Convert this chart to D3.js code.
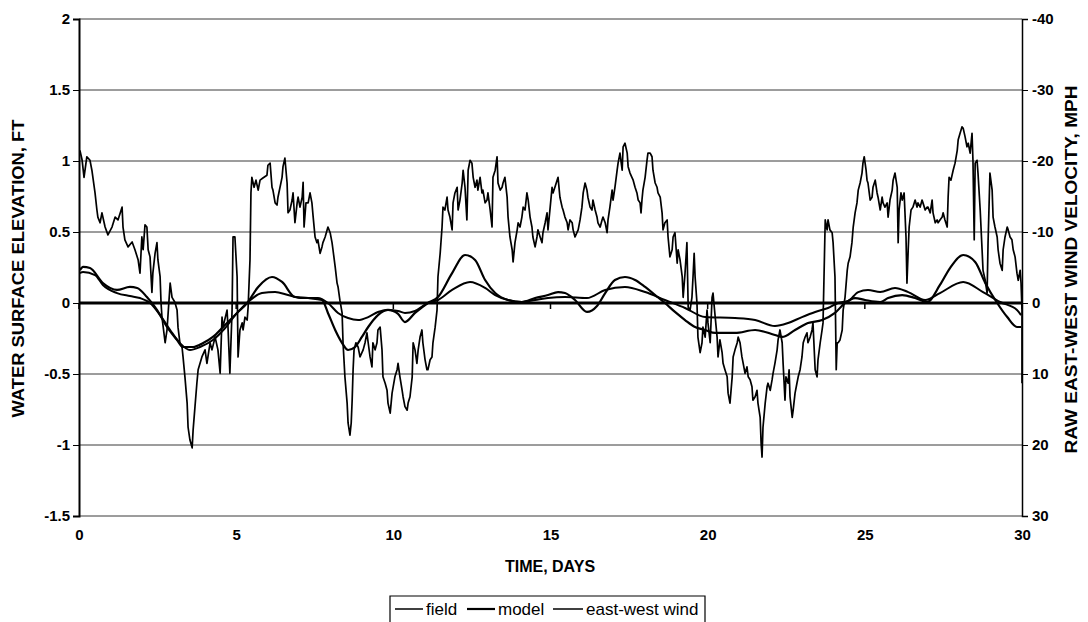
<!DOCTYPE html>
<html><head><meta charset="utf-8">
<script src="https://cdn.jsdelivr.net/npm/d3@7"></script>
<style>body{margin:0;background:#fff}svg{display:block}text{font-family:"Liberation Sans",Arial,sans-serif}</style>
</head><body>
<svg id="chart" width="1088" height="622"></svg>
<script>
// ---- data ----
const dayTicks = [0, 5, 10, 15, 20, 25, 30];
const elevTicks = [-1.5, -1, -0.5, 0, 0.5, 1, 1.5, 2];
const windTicks = [-40, -30, -20, -10, 0, 10, 20, 30];
const seriesNames = ["field", "model", "east-west wind"];

// [day, ft]
const fieldSeries = [[0.03,0.211],[0.13,0.218],[0.51,0.197],[0.76,0.127],[1.21,0.070],[1.62,0.049],[1.94,0.035],[2.26,0.0],[2.58,-0.085],[2.90,-0.190],[3.21,-0.282],[3.53,-0.331],[3.85,-0.310],[4.26,-0.261],[4.65,-0.176],[5.03,-0.070],[5.38,0.007],[5.82,0.070],[6.24,0.077],[6.65,0.056],[7.10,0.035],[7.60,0.035],[7.92,0.0],[8.24,-0.070],[8.56,-0.106],[8.88,-0.120],[9.20,-0.099],[9.51,-0.063],[9.83,-0.049],[10.15,-0.056],[10.37,-0.070],[10.69,-0.056],[11.10,0.0],[11.42,0.021],[11.87,0.092],[12.44,0.148],[12.92,0.106],[13.24,0.056],[13.65,0.021],[14.09,0.007],[14.51,0.021],[14.92,0.035],[15.46,0.042],[16.16,0.035],[16.74,0.092],[17.37,0.113],[18.01,0.077],[18.64,0.021],[19.28,-0.035],[19.92,-0.099],[20.87,-0.106],[21.51,-0.120],[22.14,-0.162],[22.56,-0.141],[23.00,-0.099],[23.42,-0.063],[23.83,-0.035],[24.15,0.0],[24.47,0.014],[24.79,0.077],[25.10,0.092],[25.49,0.077],[25.96,0.106],[26.38,0.077],[26.92,0.021],[27.39,0.070],[28.13,0.148],[28.76,0.077],[29.30,0.007],[29.84,-0.049],[29.97,-0.085]];

const modelSeries = [[0.03,0.232],[0.13,0.254],[0.35,0.246],[0.76,0.141],[1.21,0.092],[1.62,0.113],[1.85,0.106],[2.16,0.042],[2.48,-0.049],[2.80,-0.169],[3.12,-0.261],[3.31,-0.310],[3.63,-0.310],[3.95,-0.282],[4.26,-0.239],[4.58,-0.169],[5.03,-0.070],[5.35,0.0],[5.70,0.113],[6.14,0.183],[6.46,0.148],[6.87,0.042],[7.29,0.035],[7.73,0.021],[7.92,-0.070],[8.15,-0.190],[8.37,-0.282],[8.56,-0.331],[8.78,-0.310],[9.00,-0.239],[9.20,-0.169],[9.51,-0.085],[9.83,-0.049],[10.15,-0.077],[10.37,-0.134],[10.69,-0.070],[11.10,0.0],[11.42,0.042],[11.87,0.211],[12.28,0.338],[12.60,0.303],[12.92,0.162],[13.24,0.070],[13.65,0.021],[14.09,0.007],[14.51,0.035],[14.92,0.056],[15.24,0.077],[15.46,0.070],[15.78,0.021],[16.16,-0.063],[16.48,-0.021],[16.74,0.070],[17.05,0.162],[17.37,0.183],[17.69,0.162],[18.01,0.113],[18.33,0.056],[18.64,0.0],[18.96,-0.063],[19.28,-0.120],[19.60,-0.169],[19.92,-0.190],[20.24,-0.211],[20.87,-0.211],[21.51,-0.190],[22.14,-0.225],[22.37,-0.239],[22.78,-0.190],[23.19,-0.141],[23.64,-0.120],[24.05,-0.070],[24.37,0.0],[24.69,0.035],[25.01,0.021],[25.49,0.007],[25.74,0.035],[26.19,0.056],[26.60,0.035],[26.98,0.007],[27.39,0.127],[27.71,0.246],[28.13,0.338],[28.51,0.289],[28.83,0.141],[29.21,0.0],[29.53,-0.099],[29.84,-0.169],[29.97,-0.169]];

// [day, mph] (raw east-west wind velocity)
const windSeries = [[0.03,-21.5],[0.10,-20.1],[0.16,-17.7],[0.25,-20.6],[0.35,-20.1],[0.41,-18.7],[0.51,-15.5],[0.57,-13.1],[0.60,-12.1],[0.67,-11.3],[0.73,-12.7],[0.83,-10.7],[0.92,-9.6],[1.05,-10.7],[1.15,-12.1],[1.24,-11.7],[1.37,-13.5],[1.40,-10.7],[1.46,-8.9],[1.56,-7.9],[1.69,-8.6],[1.78,-7.5],[1.88,-6.1],[1.94,-4.2],[2.00,-9.3],[2.04,-7.5],[2.10,-11.0],[2.16,-10.7],[2.20,-7.5],[2.26,-6.5],[2.32,-1.5],[2.35,-4.2],[2.42,-7.0],[2.48,-8.5],[2.51,-6.1],[2.58,-3.7],[2.61,0],[2.64,2.0],[2.74,5.6],[2.80,3.8],[2.90,-2.8],[2.96,-0.8],[3.05,-0.1],[3.12,1.0],[3.15,3.4],[3.21,5.6],[3.28,6.3],[3.31,7.6],[3.37,10.4],[3.44,14.1],[3.47,17.5],[3.53,19.3],[3.60,20.4],[3.63,17.9],[3.69,14.6],[3.75,11.3],[3.79,9.4],[3.91,7.6],[4.01,6.6],[4.07,8.5],[4.17,5.6],[4.23,6.6],[4.33,4.8],[4.42,6.6],[4.49,9.9],[4.55,2.0],[4.58,3.4],[4.71,1.0],[4.74,3.4],[4.80,9.9],[4.87,1.0],[4.90,-9.3],[4.96,-9.3],[5.03,-3.7],[5.06,7.6],[5.12,3.8],[5.19,2.8],[5.22,3.8],[5.28,2.0],[5.35,2.4],[5.38,0.6],[5.44,-6.1],[5.47,-15.5],[5.50,-17.7],[5.57,-16.3],[5.63,-17.3],[5.70,-15.9],[5.76,-17.3],[5.85,-17.6],[5.98,-18.0],[6.01,-19.4],[6.08,-19.7],[6.14,-16.3],[6.17,-15.9],[6.24,-14.1],[6.30,-13.8],[6.33,-14.9],[6.46,-17.7],[6.49,-19.2],[6.55,-20.4],[6.62,-16.9],[6.65,-12.7],[6.71,-13.1],[6.78,-14.5],[6.81,-15.5],[6.87,-11.3],[6.94,-14.1],[6.97,-14.9],[7.03,-13.5],[7.10,-14.9],[7.13,-17.0],[7.16,-10.7],[7.22,-14.1],[7.29,-14.1],[7.35,-15.5],[7.41,-14.1],[7.45,-12.1],[7.51,-9.3],[7.57,-8.5],[7.60,-8.9],[7.67,-7.0],[7.73,-7.9],[7.76,-8.5],[7.83,-9.3],[7.92,-10.7],[7.99,-9.9],[8.05,-8.5],[8.08,-7.5],[8.15,-5.1],[8.21,-2.8],[8.24,-2.3],[8.30,-0.4],[8.37,1.4],[8.40,5.6],[8.46,10.4],[8.53,14.1],[8.56,16.9],[8.62,18.6],[8.66,16.9],[8.69,13.7],[8.72,9.4],[8.75,6.6],[8.81,5.6],[8.88,6.2],[8.94,7.6],[9.00,7.0],[9.04,6.6],[9.10,5.6],[9.16,4.2],[9.20,5.6],[9.26,7.6],[9.32,9.0],[9.35,5.6],[9.42,6.6],[9.48,5.6],[9.51,3.8],[9.58,3.4],[9.64,6.6],[9.67,10.4],[9.74,11.3],[9.80,12.3],[9.83,14.1],[9.90,15.5],[9.96,12.7],[10.05,10.4],[10.12,9.4],[10.15,8.5],[10.21,10.4],[10.28,12.3],[10.31,13.2],[10.37,14.6],[10.44,15.1],[10.47,14.1],[10.53,13.2],[10.60,10.4],[10.63,5.6],[10.69,6.6],[10.75,8.5],[10.79,6.6],[10.85,4.8],[10.91,3.8],[10.94,5.6],[11.01,8.0],[11.07,9.4],[11.10,9.4],[11.17,8.0],[11.23,7.6],[11.26,5.6],[11.33,3.4],[11.39,1.0],[11.42,-3.7],[11.49,-7.0],[11.55,-10.7],[11.58,-13.5],[11.64,-13.1],[11.71,-14.9],[11.74,-13.1],[11.80,-12.1],[11.87,-10.3],[11.90,-14.1],[11.96,-15.5],[12.03,-16.3],[12.06,-13.1],[12.12,-14.5],[12.19,-16.9],[12.22,-18.7],[12.28,-16.3],[12.34,-11.7],[12.38,-18.7],[12.44,-20.1],[12.50,-19.7],[12.54,-17.7],[12.60,-16.3],[12.66,-17.3],[12.69,-15.9],[12.76,-17.7],[12.82,-15.5],[12.85,-15.9],[12.92,-14.1],[12.98,-14.5],[13.01,-15.5],[13.08,-13.1],[13.14,-10.7],[13.17,-17.7],[13.24,-18.7],[13.30,-20.6],[13.33,-16.9],[13.40,-15.9],[13.46,-16.3],[13.49,-16.9],[13.55,-17.7],[13.62,-14.9],[13.65,-12.1],[13.71,-9.3],[13.78,-7.5],[13.81,-5.8],[13.87,-8.5],[13.94,-10.3],[13.97,-11.3],[14.03,-10.7],[14.09,-12.1],[14.13,-13.5],[14.19,-13.1],[14.25,-15.5],[14.29,-14.5],[14.35,-12.1],[14.41,-10.7],[14.44,-9.3],[14.51,-7.9],[14.57,-9.3],[14.60,-10.3],[14.67,-9.3],[14.73,-8.5],[14.76,-9.9],[14.83,-11.3],[14.89,-12.7],[14.92,-10.3],[14.99,-13.5],[15.05,-16.3],[15.08,-15.5],[15.14,-16.3],[15.21,-17.3],[15.24,-17.7],[15.30,-14.9],[15.37,-13.5],[15.40,-13.1],[15.46,-12.1],[15.53,-11.3],[15.56,-10.3],[15.62,-11.7],[15.69,-11.3],[15.72,-10.3],[15.78,-9.3],[15.84,-9.9],[15.88,-10.3],[15.94,-11.7],[16.00,-13.5],[16.04,-15.5],[16.10,-16.9],[16.16,-15.9],[16.19,-14.9],[16.26,-13.5],[16.32,-13.1],[16.35,-14.5],[16.42,-13.1],[16.48,-12.1],[16.51,-11.3],[16.58,-10.7],[16.64,-11.7],[16.67,-12.1],[16.74,-11.3],[16.80,-9.9],[16.83,-11.7],[16.89,-13.5],[16.96,-15.9],[16.99,-14.5],[17.05,-16.3],[17.12,-18.7],[17.15,-19.7],[17.21,-21.1],[17.28,-18.7],[17.31,-22.0],[17.37,-22.5],[17.44,-21.1],[17.47,-19.2],[17.53,-18.3],[17.59,-17.7],[17.63,-17.3],[17.69,-16.3],[17.75,-15.5],[17.79,-14.5],[17.85,-14.1],[17.88,-12.7],[17.91,-14.5],[17.94,-15.9],[18.01,-17.7],[18.07,-20.1],[18.10,-21.1],[18.17,-21.1],[18.23,-20.6],[18.26,-18.7],[18.33,-16.9],[18.39,-16.3],[18.42,-15.5],[18.49,-14.9],[18.55,-12.7],[18.58,-10.3],[18.64,-11.3],[18.71,-11.7],[18.74,-9.3],[18.80,-6.5],[18.87,-7.5],[18.90,-9.3],[18.96,-9.9],[19.03,-5.6],[19.06,-7.5],[19.12,-6.1],[19.19,-3.7],[19.22,-0.8],[19.28,-4.2],[19.34,-8.5],[19.38,0.6],[19.44,1.0],[19.50,-0.8],[19.54,-4.2],[19.57,-7.0],[19.60,-3.7],[19.66,0],[19.69,4.8],[19.76,7.0],[19.82,5.6],[19.85,3.4],[19.92,4.8],[19.98,1.0],[20.01,2.8],[20.08,5.6],[20.14,-0.8],[20.17,-1.4],[20.24,2.0],[20.30,4.8],[20.33,7.6],[20.39,5.2],[20.46,7.0],[20.49,8.5],[20.55,9.4],[20.62,10.4],[20.65,12.7],[20.71,14.1],[20.78,10.4],[20.81,7.6],[20.87,6.6],[20.94,5.6],[20.97,4.8],[21.03,5.6],[21.09,7.6],[21.13,8.5],[21.19,9.9],[21.25,9.0],[21.29,10.4],[21.35,10.8],[21.41,11.8],[21.44,13.7],[21.51,13.2],[21.57,12.3],[21.60,14.1],[21.67,16.1],[21.70,19.7],[21.73,21.7],[21.76,17.5],[21.83,14.1],[21.89,11.8],[21.92,11.3],[21.99,12.3],[22.05,10.8],[22.08,9.9],[22.14,8.5],[22.21,6.6],[22.24,5.2],[22.30,3.8],[22.37,5.6],[22.40,8.5],[22.46,13.7],[22.49,10.4],[22.56,11.3],[22.59,9.4],[22.62,13.2],[22.69,16.1],[22.72,15.1],[22.78,12.7],[22.84,11.3],[22.88,10.4],[22.94,9.4],[23.00,7.6],[23.04,5.6],[23.10,4.8],[23.16,4.2],[23.19,5.6],[23.26,4.8],[23.32,3.8],[23.35,2.8],[23.42,9.4],[23.48,10.4],[23.51,8.0],[23.58,5.6],[23.64,3.8],[23.67,2.8],[23.74,-11.7],[23.80,-10.3],[23.83,-11.7],[23.89,-10.3],[23.96,-9.9],[23.99,-8.5],[24.05,-3.7],[24.09,9.4],[24.12,5.6],[24.15,5.6],[24.21,5.2],[24.28,3.8],[24.31,1.0],[24.37,-0.8],[24.44,-4.6],[24.47,-5.6],[24.53,-6.5],[24.59,-8.5],[24.63,-10.7],[24.69,-12.7],[24.75,-14.1],[24.79,-15.9],[24.85,-16.9],[24.91,-18.3],[24.94,-19.7],[24.98,-20.6],[25.04,-18.7],[25.07,-17.3],[25.10,-16.9],[25.17,-14.5],[25.23,-14.9],[25.26,-16.3],[25.33,-17.3],[25.39,-15.5],[25.42,-14.9],[25.49,-13.1],[25.55,-14.9],[25.58,-14.1],[25.64,-13.5],[25.71,-14.1],[25.74,-12.1],[25.80,-14.5],[25.87,-15.9],[25.90,-17.3],[25.96,-18.3],[26.03,-16.3],[26.06,-8.5],[26.09,-13.1],[26.15,-15.5],[26.19,-14.5],[26.25,-15.5],[26.31,-9.3],[26.34,-2.8],[26.38,-7.5],[26.41,-10.7],[26.47,-13.1],[26.53,-13.5],[26.60,-14.5],[26.66,-13.5],[26.69,-14.1],[26.76,-13.5],[26.82,-14.5],[26.85,-14.1],[26.92,-13.1],[26.98,-13.5],[27.01,-13.5],[27.08,-12.7],[27.14,-14.5],[27.17,-12.7],[27.24,-11.3],[27.30,-11.7],[27.33,-11.3],[27.39,-11.7],[27.46,-12.1],[27.49,-12.7],[27.55,-11.7],[27.62,-10.7],[27.65,-14.9],[27.68,-17.7],[27.74,-17.3],[27.81,-18.7],[27.87,-19.7],[27.94,-21.5],[27.97,-23.0],[28.03,-23.9],[28.09,-24.8],[28.13,-24.6],[28.19,-23.4],[28.25,-22.0],[28.29,-22.5],[28.35,-21.1],[28.41,-23.9],[28.44,-20.1],[28.48,-8.9],[28.51,-19.7],[28.57,-20.1],[28.60,-18.3],[28.67,-13.1],[28.73,-7.5],[28.76,-4.6],[28.83,-3.2],[28.89,-1.4],[28.92,-8.5],[28.98,-18.3],[29.05,-15.9],[29.08,-12.1],[29.14,-10.7],[29.21,-9.3],[29.24,-7.5],[29.30,-5.6],[29.37,-4.6],[29.40,-7.5],[29.46,-9.3],[29.53,-10.7],[29.56,-10.3],[29.62,-9.3],[29.68,-8.9],[29.72,-7.5],[29.78,-6.5],[29.84,-4.2],[29.88,-3.2],[29.94,-4.6],[29.97,-2.8],[30.0,1.0],[30.0,11.3]];

// ---- layout ----
const svg = d3.select("#chart");
const m = {left: 79, right: 1022, top: 19, bottom: 516};
const x = d3.scaleLinear().domain([0, 30]).range([m.left, m.right]);
const y = d3.scaleLinear().domain([-1.5, 2]).range([m.bottom, m.top]);
const y2 = d3.scaleLinear().domain([-40, 30]).range([m.top, m.bottom]);
const fmt = d => String(d);

// gridlines
svg.append("g").selectAll("line").data(elevTicks).join("line")
  .attr("x1", m.left).attr("x2", m.right)
  .attr("y1", d => y(d)).attr("y2", d => y(d))
  .attr("stroke", "#3a3a3a").attr("stroke-width", 1);

// left axis
const gL = svg.append("g").attr("transform", `translate(${m.left},0)`)
  .call(d3.axisLeft(y).tickValues(elevTicks).tickSize(6).tickPadding(3).tickFormat(fmt));
// right axis
const gR = svg.append("g").attr("transform", `translate(${m.right},0)`)
  .call(d3.axisRight(y2).tickValues(windTicks).tickSize(6).tickPadding(4).tickFormat(fmt));
// bottom labels
const gB = svg.append("g").attr("transform", `translate(0,${m.bottom})`)
  .call(d3.axisBottom(x).tickValues(dayTicks).tickSize(0).tickPadding(13).tickFormat(fmt));
gB.select(".domain").remove();
[gL, gR, gB].forEach(g => {
  g.selectAll("text").attr("font-family", "Liberation Sans, Arial, sans-serif")
    .attr("font-size", 15).attr("font-weight", "bold").attr("fill", "#000");
  g.selectAll("line").attr("stroke", "#000");
  g.select(".domain").attr("stroke", "#000").attr("stroke-width", 2);
});
gR.select(".domain").attr("stroke-width", 1.5);

// zero axis line with small ticks
svg.append("line").attr("x1", m.left).attr("x2", m.right)
  .attr("y1", y(0)).attr("y2", y(0)).attr("stroke", "#000").attr("stroke-width", 3);
svg.append("g").selectAll("line").data(dayTicks).join("line")
  .attr("x1", d => x(d)).attr("x2", d => x(d))
  .attr("y1", y(0)).attr("y2", y(0) + 6).attr("stroke", "#000").attr("stroke-width", 1.5);

// series
const lineSmooth = d3.line().x(d => x(d[0])).y(d => y(d[1])).curve(d3.curveMonotoneX);
const lineWind = d3.line().x(d => x(d[0])).y(d => y2(d[1]));

svg.append("path").datum(windSeries).attr("d", lineWind)
  .attr("fill", "none").attr("stroke", "#000").attr("stroke-width", 1.7).attr("stroke-linejoin", "round");
svg.append("path").datum(fieldSeries).attr("d", lineSmooth)
  .attr("fill", "none").attr("stroke", "#000").attr("stroke-width", 2);
svg.append("path").datum(modelSeries).attr("d", lineSmooth)
  .attr("fill", "none").attr("stroke", "#000").attr("stroke-width", 2.2);

// axis titles
svg.append("text").attr("transform", `translate(24,${(m.top + m.bottom) / 2 + 1}) rotate(-90)`)
  .attr("text-anchor", "middle").attr("font-size", 16).attr("font-weight", "bold")
  .attr("textLength", 298).attr("lengthAdjust", "spacingAndGlyphs")
  .text("WATER SURFACE ELEVATION, FT");
svg.append("text").attr("transform", `translate(1077,${(m.top + m.bottom) / 2 + 2}) rotate(-90)`)
  .attr("text-anchor", "middle").attr("font-size", 16).attr("font-weight", "bold")
  .attr("textLength", 368).attr("lengthAdjust", "spacingAndGlyphs")
  .text("RAW EAST-WEST WIND VELOCITY, MPH");
svg.append("text").attr("x", 550).attr("y", 572)
  .attr("text-anchor", "middle").attr("font-size", 16).attr("font-weight", "bold")
  .text("TIME, DAYS");

// legend
const lg = svg.append("g");
lg.append("path").attr("d", "M390,622 V596 H705 V622").attr("fill", "none").attr("stroke", "#000").attr("stroke-width", 1.2);
const legendItems = [
  {name: seriesNames[0], x0: 395, x1: 423, w: 1.5},
  {name: seriesNames[1], x0: 467, x1: 495, w: 2.2},
  {name: seriesNames[2], x0: 553, x1: 583, w: 1.5}
];
legendItems.forEach(it => {
  lg.append("line").attr("x1", it.x0).attr("x2", it.x1).attr("y1", 609).attr("y2", 609)
    .attr("stroke", "#000").attr("stroke-width", it.w);
  lg.append("text").attr("x", it.x1 + 3).attr("y", 615).attr("font-size", 17).text(it.name);
});
</script>
</body></html>
